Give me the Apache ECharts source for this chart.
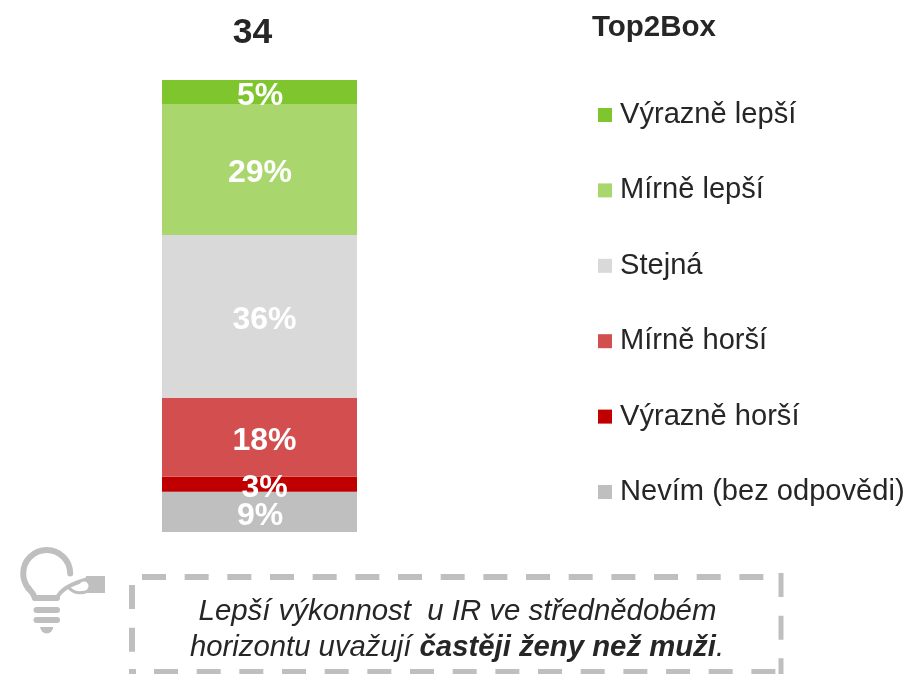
<!DOCTYPE html>
<html><head><meta charset="utf-8">
<style>html,body{margin:0;padding:0;background:#fff}#c{width:907px;height:674px}</style>
<script src="https://cdn.jsdelivr.net/npm/echarts@6/dist/echarts.min.js"></script>
</head><body><div id="c"></div>
<script>
const category = ['34'];
const sidebarTitle = 'Top2Box';
const seriesNames = ['Nevím (bez odpovědi)','Výrazně horší','Mírně horší','Stejná','Mírně lepší','Výrazně lepší'];
const seriesValues = [8.9,3.3,17.5,36,29,5.3];
const seriesColors = ['#BFBFBF','#C00000','#D34F4F','#D9D9D9','#A9D76E','#7FC52D'];
const legendOrder = ['Výrazně lepší','Mírně lepší','Stejná','Mírně horší','Výrazně horší','Nevím (bez odpovědi)'];
const FONT = '"Liberation Sans", Arial, sans-serif';
const GREY = '#BFBFBF', INK = '#262626';
const shiftedLabels = new Set(['Výrazně horší','Mírně horší','Stejná']);
const dash = (x1,y1,x2,y2,w,offset)=>({type:'line',silent:true,
  shape:{x1,y1,x2,y2},
  style:{stroke:GREY,lineWidth:w,lineDash:[24,18.67],lineDashOffset:offset}});
const stroke = {fill:'none',stroke:GREY,lineWidth:6,lineCap:'round'};
const chart = echarts.init(document.getElementById('c'),null,{renderer:'canvas'});
chart.setOption({
  animation:false,
  backgroundColor:'#fff',
  title:[
    {text:category[0],left:252.5,top:33,padding:0,textAlign:'center',textVerticalAlign:'middle',
     textStyle:{fontFamily:FONT,fontSize:35.5,fontWeight:'bold',color:INK}},
    {text:sidebarTitle,left:592,top:28,padding:0,textVerticalAlign:'middle',
     textStyle:{fontFamily:FONT,fontSize:29.5,fontWeight:'bold',color:INK}}
  ],
  grid:{left:162,top:80,width:195,height:452,containLabel:false},
  xAxis:{type:'category',data:category,show:false},
  yAxis:{type:'value',min:0,max:100,show:false},
  legend:{orient:'vertical',left:598,top:100.5,itemWidth:14,itemHeight:14,itemGap:46.4,
    selectedMode:false,icon:'rect',data:legendOrder,padding:0,
    textStyle:{fontFamily:FONT,fontSize:29.1,color:INK,padding:[0,0,0,3],lineHeight:14}},
  series:seriesNames.map((name,i)=>({
    name,type:'bar',stack:'t',barWidth:'100%',
    itemStyle:{color:seriesColors[i]},
    data:[seriesValues[i]],
    label:{show:true,position:'inside',offset:[shiftedLabels.has(name)?5:0.5,4],color:'#fff',
      fontFamily:FONT,fontSize:32,fontWeight:'bold',
      formatter:p=>Math.round(p.value)+'%'}
  })),
  graphic:[
    dash(142,577,782,577,6,0),
    dash(781,573,781,674,5,0),
    dash(154,672,782,672,6,0),
    dash(132,585,132,674,6,0),
    {type:'line',silent:true,shape:{x1:129,y1:672,x2:136,y2:672},style:{stroke:GREY,lineWidth:6}},
    {type:'text',silent:true,x:457.5,y:611.5,
      style:{text:'Lepší výkonnost  u IR ve střednědobém',align:'center',verticalAlign:'middle',
        font:'italic 29.4px "Liberation Sans", Arial, sans-serif',fill:INK}},
    {type:'text',silent:true,x:457,y:647.5,
      style:{text:'{a|horizontu uvažují }{b|častěji ženy než muži}{a|.}',align:'center',verticalAlign:'middle',
        rich:{a:{font:'italic 29.3px "Liberation Sans", Arial, sans-serif',fill:INK},
              b:{font:'italic bold 29.3px "Liberation Sans", Arial, sans-serif',fill:INK}}}},
    {type:'arc',silent:true,shape:{cx:46.7,cy:573.5,r:23.5,startAngle:0,endAngle:2.45,clockwise:false},style:stroke},
    {type:'bezierCurve',silent:true,shape:{x1:28.7,y1:588.5,cpx1:33,cpy1:593,x2:35,y2:598},style:stroke},
    {type:'line',silent:true,shape:{x1:35,y1:598,x2:57,y2:598},style:stroke},
    {type:'bezierCurve',silent:true,shape:{x1:57,y1:598,cpx1:62,cpy1:586,x2:88,y2:579},style:{...stroke,lineWidth:4}},
    {type:'bezierCurve',silent:true,shape:{x1:68,y1:587,cpx1:76,cpy1:596,x2:88,y2:591},style:{...stroke,lineWidth:3}},
    {type:'rect',silent:true,shape:{x:86,y:576,width:19,height:17},style:{fill:GREY}},
    {type:'circle',silent:true,shape:{cx:84,cy:586,r:4.5},style:{fill:'#fff'}},
    {type:'rect',silent:true,shape:{x:33.5,y:607,width:26.5,height:6,r:3},style:{fill:GREY}},
    {type:'rect',silent:true,shape:{x:33.5,y:617,width:26.5,height:6,r:3},style:{fill:GREY}},
    {type:'sector',silent:true,shape:{cx:46.7,cy:627,r:6.5,r0:0,startAngle:0,endAngle:Math.PI},style:{fill:GREY}}
  ]
});
</script></body></html>
